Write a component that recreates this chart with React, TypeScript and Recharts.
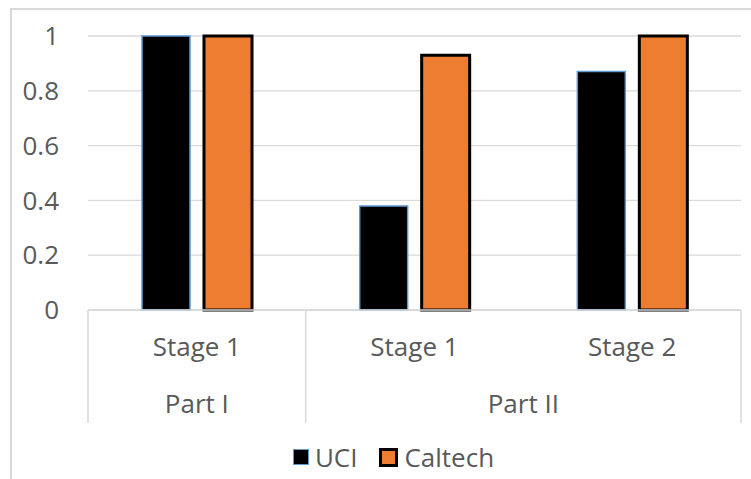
import { BarChart, Bar, XAxis, YAxis, CartesianGrid, Legend } from "recharts";

const stages = ["Stage 1", "Stage 1", "Stage 2"];
const uciScores = [1, 0.38, 0.87];
const caltechScores = [1, 0.93, 1];
const partNames = ["Part I", "Part II"];
const partSpans = [1, 2];
const yTicks = [0, 0.2, 0.4, 0.6, 0.8, 1];

const data = stages.map((stage, i) => ({
  stage,
  UCI: uciScores[i],
  Caltech: caltechScores[i],
}));

// index of the first stage in each part
const partStarts = partSpans.map((_, i) =>
  partSpans.slice(0, i).reduce((a, b) => a + b, 0)
);

const CHART_W = 751;
const CHART_H = 479;
const Y_AXIS_W = 88;
const RIGHT = 10;
const BAND = (CHART_W - Y_AXIS_W - RIGHT) / stages.length;
const AXIS_H = 113;

const GRID = "#d9d9d9";
const TEXT = "#595959";
const FONT = "'Open Sans', sans-serif";

const series = [
  { key: "UCI", fill: "#000000", stroke: "#5b9bd5", strokeWidth: 1.5 },
  { key: "Caltech", fill: "#ed7d31", stroke: "#000000", strokeWidth: 3 },
];

// two-level category label: stage under each bar group, part under its stages
function StageTick({ x, y, index, payload }: any) {
  const p = partStarts.indexOf(index);
  const left = x - BAND / 2;
  return (
    <g>
      <text x={x} y={y + 28} dy="0.71em" textAnchor="middle" fill={TEXT} fontSize={26} fontFamily={FONT}>
        {payload.value}
      </text>
      {p >= 0 && (
        <>
          <line x1={left} y1={y} x2={left} y2={y + AXIS_H} stroke={GRID} strokeWidth={1.5} />
          <text
            x={left + (partSpans[p] * BAND) / 2}
            y={y + 85}
            dy="0.71em"
            textAnchor="middle"
            fill={TEXT}
            fontSize={26}
            fontFamily={FONT}
          >
            {partNames[p]}
          </text>
        </>
      )}
      {index === stages.length - 1 && (
        <line x1={x + BAND / 2} y1={y} x2={x + BAND / 2} y2={y + AXIS_H} stroke={GRID} strokeWidth={1.5} />
      )}
    </g>
  );
}

function LegendContent() {
  return (
    <div
      style={{
        height: 56,
        paddingTop: 12,
        paddingLeft: 46,
        boxSizing: "border-box",
        display: "flex",
        justifyContent: "center",
        alignItems: "center",
        gap: 22,
        fontFamily: FONT,
        fontSize: 26,
        color: TEXT,
      }}
    >
      {series.map((s) => (
        <div key={s.key} style={{ display: "flex", alignItems: "center", gap: 6 }}>
          <span
            style={{
              display: "inline-block",
              width: s.strokeWidth > 2 ? 13 : 14,
              height: s.strokeWidth > 2 ? 13 : 14,
              background: s.fill,
              border: `${s.strokeWidth > 2 ? 3 : 1.5}px solid ${s.stroke}`,
            }}
          />
          <span>{s.key}</span>
        </div>
      ))}
    </div>
  );
}

export default function App() {
  return (
    <div
      style={{
        position: "fixed",
        left: 0,
        top: 0,
        width: CHART_W,
        height: CHART_H,
        background: "#ffffff",
        fontFamily: FONT,
      }}
    >
      <div
        style={{
          position: "absolute",
          left: 10,
          top: 8,
          width: 741,
          height: 471,
          borderTop: `2px solid ${GRID}`,
          borderLeft: `2px solid ${GRID}`,
          boxSizing: "border-box",
        }}
      />
      <BarChart
        width={CHART_W}
        height={CHART_H}
        data={data}
        margin={{ top: 36, right: RIGHT, left: 0, bottom: 0 }}
        barCategoryGap={54}
        barGap={14}
        style={{ position: "absolute", left: 0, top: 0 }}
      >
        <CartesianGrid vertical={false} stroke={GRID} strokeWidth={1.3} />
        <XAxis
          dataKey="stage"
          height={AXIS_H}
          interval={0}
          axisLine={{ stroke: GRID, strokeWidth: 1.5 }}
          tickLine={false}
          tickSize={0}
          tickMargin={0}
          tick={<StageTick />}
        />
        <YAxis
          width={Y_AXIS_W}
          domain={[0, 1]}
          ticks={yTicks}
          interval={0}
          axisLine={false}
          tickLine={false}
          tickSize={0}
          tickMargin={29}
          tick={{ fill: TEXT, fontSize: 26, fontFamily: FONT }}
        />
        <Legend verticalAlign="bottom" content={() => <LegendContent />} />
        {series.map((s) => (
          <Bar
            key={s.key}
            dataKey={s.key}
            fill={s.fill}
            stroke={s.stroke}
            strokeWidth={s.strokeWidth}
            isAnimationActive={false}
          />
        ))}
      </BarChart>
    </div>
  );
}
